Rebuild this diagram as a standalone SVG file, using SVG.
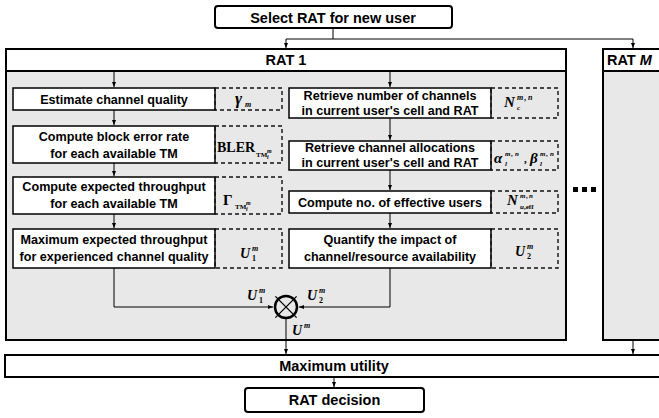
<svg xmlns="http://www.w3.org/2000/svg" width="659" height="418" viewBox="0 0 659 418">
<defs>
<style>
.t{font-family:"Liberation Sans",Arial,sans-serif;font-weight:bold;font-size:12.6px;text-anchor:middle;fill:#000}
.h{font-size:14.5px}
.m{font-family:"Liberation Serif","Times New Roman",serif;font-weight:bold;font-style:italic;fill:#000}
.r{font-style:normal}
.box{fill:#fff;stroke:#000;stroke-width:1.5}
.dash{fill:none;stroke:#111;stroke-width:1.4;stroke-dasharray:4 3}
.panel{fill:#e8e8e8;stroke:#000;stroke-width:2}
.hdr{fill:#fff;stroke:#000;stroke-width:2}
.c{fill:none;stroke:#000;stroke-width:1}
</style>
<marker id="ah" viewBox="0 0 5 4" refX="5" refY="2" markerWidth="5" markerHeight="4" orient="auto" markerUnits="userSpaceOnUse"><path d="M0,0 L5,2 L0,4 z" fill="#000"/></marker>
</defs>
<rect width="659" height="418" fill="#fff"/>

<g id="select">
<rect x="215" y="6" width="237" height="22" rx="3" class="hdr"/>
<text x="333" y="22.5" class="t h">Select RAT for new user</text>
</g>

<g id="rat1">
<rect x="6" y="49" width="560" height="291" class="panel"/>
<rect x="6" y="49" width="560" height="22" class="hdr"/>
<text x="286" y="65" class="t h">RAT 1</text>
</g>

<g id="ratM">
<rect x="603" y="49" width="100" height="291" class="panel"/>
<rect x="603" y="49" width="100" height="22" class="hdr"/>
<text x="607" y="65" class="t h" style="text-anchor:start">RAT <tspan font-style="italic">M</tspan></text>
</g>

<g id="ellipsis">
<rect x="573" y="187" width="5" height="5" fill="#000"/>
<rect x="582" y="187" width="5" height="5" fill="#000"/>
<rect x="591" y="187" width="5" height="5" fill="#000"/>
</g>

<g id="estimate">
<rect x="13" y="88" width="202" height="22" class="box"/>
<rect x="215" y="88" width="67" height="22" class="dash"/>
<text x="114" y="103.5" class="t">Estimate channel quality</text>
<text class="m"><tspan x="235" y="104" font-size="17">γ</tspan><tspan x="245" y="107" font-size="8">m</tspan></text>
</g>

<g id="bler">
<rect x="13" y="126" width="202" height="37" class="box"/>
<rect x="215" y="126" width="67" height="37" class="dash"/>
<text x="114" y="141" class="t">Compute block error rate</text>
<text x="114" y="158" class="t">for each available TM</text>
<text class="m"><tspan x="217" y="152" font-size="14" class="r">BLER</tspan><tspan x="256" y="157" font-size="7" class="r">TM</tspan><tspan x="267" y="159" font-size="6">i</tspan><tspan x="267" y="153" font-size="6">m</tspan></text>
</g>

<g id="throughput">
<rect x="13" y="177" width="202" height="37" class="box"/>
<rect x="215" y="177" width="67" height="37" class="dash"/>
<text x="114" y="191" class="t">Compute expected throughput</text>
<text x="114" y="208" class="t">for each available TM</text>
<text class="m"><tspan x="223" y="205" font-size="15" class="r">Γ</tspan><tspan x="235" y="209" font-size="7" class="r">TM</tspan><tspan x="246" y="211" font-size="6">i</tspan><tspan x="246" y="205" font-size="6">m</tspan></text>
</g>

<g id="maxthroughput">
<rect x="13" y="229" width="202" height="39" class="box"/>
<rect x="215" y="229" width="67" height="39" class="dash"/>
<text x="114" y="244" class="t">Maximum expected throughput</text>
<text x="114" y="260.5" class="t">for experienced channel quality</text>
<text class="m"><tspan x="240" y="258" font-size="14">U</tspan><tspan x="252" y="251" font-size="8">m</tspan><tspan x="252" y="261" font-size="8" class="r">1</tspan></text>
</g>

<g id="numchannels">
<rect x="289" y="88" width="202" height="30" class="box"/>
<rect x="491" y="88" width="67" height="30" class="dash"/>
<text x="390" y="100" class="t">Retrieve number of channels</text>
<text x="390" y="114.5" class="t">in current user's cell and RAT</text>
<text class="m"><tspan x="504" y="107" font-size="15">N</tspan><tspan x="517" y="100" font-size="8">m</tspan><tspan x="524" y="100" font-size="8" class="r">,</tspan><tspan x="528" y="100" font-size="8">n</tspan><tspan x="517" y="110" font-size="7">c</tspan></text>
</g>

<g id="allocations">
<rect x="289" y="141" width="202" height="29" class="box"/>
<rect x="491" y="141" width="67" height="29" class="dash"/>
<text x="390" y="152" class="t">Retrieve channel allocations</text>
<text x="390" y="166.5" class="t">in current user's cell and RAT</text>
<text class="m"><tspan x="494" y="163" font-size="15">α</tspan><tspan x="505" y="156" font-size="7">m</tspan><tspan x="511" y="156" font-size="7" class="r">,</tspan><tspan x="515" y="156" font-size="7">n</tspan><tspan x="505" y="166" font-size="7">l</tspan><tspan x="524" y="163" font-size="11" class="r">,</tspan><tspan x="530" y="163" font-size="15">β</tspan><tspan x="540" y="156" font-size="7">m</tspan><tspan x="546" y="156" font-size="7" class="r">,</tspan><tspan x="550" y="156" font-size="7">n</tspan><tspan x="540" y="166" font-size="7">l</tspan></text>
</g>

<g id="effusers">
<rect x="289" y="191" width="202" height="22" class="box"/>
<rect x="491" y="191" width="67" height="22" class="dash"/>
<text x="390" y="206.5" class="t">Compute no. of effective users</text>
<text class="m"><tspan x="507" y="205" font-size="15">N</tspan><tspan x="520" y="198" font-size="7">m</tspan><tspan x="526" y="198" font-size="7" class="r">,</tspan><tspan x="529" y="198" font-size="7">n</tspan><tspan x="520" y="209" font-size="7">u</tspan><tspan x="524" y="209" font-size="7" class="r">,eff</tspan></text>
</g>

<g id="impact">
<rect x="289" y="229" width="202" height="39" class="box"/>
<rect x="491" y="229" width="67" height="39" class="dash"/>
<text x="390" y="244" class="t">Quantify the impact of</text>
<text x="390" y="260.5" class="t">channel/resource availability</text>
<text class="m"><tspan x="515" y="256" font-size="14">U</tspan><tspan x="527" y="249" font-size="8">m</tspan><tspan x="527" y="259" font-size="8" class="r">2</tspan></text>
</g>

<g id="product">
<circle cx="286" cy="307" r="11" fill="none" stroke="#000" stroke-width="2.5"/>
<path d="M275.4,296.4 L296.6,317.6 M275.4,317.6 L296.6,296.4" stroke="#000" stroke-width="1.3"/>
<text class="m"><tspan x="247" y="300" font-size="14">U</tspan><tspan x="259" y="293" font-size="8">m</tspan><tspan x="259" y="303" font-size="8" class="r">1</tspan></text>
<text class="m"><tspan x="307" y="300" font-size="14">U</tspan><tspan x="319" y="293" font-size="8">m</tspan><tspan x="319" y="303" font-size="8" class="r">2</tspan></text>
<text class="m"><tspan x="292" y="335" font-size="14">U</tspan><tspan x="304" y="328" font-size="8">m</tspan></text>
</g>

<g id="maxutility">
<rect x="5" y="355" width="700" height="22" class="hdr"/>
<text x="334" y="371" class="t h">Maximum utility</text>
</g>

<g id="decision">
<rect x="245" y="388" width="179" height="24" rx="3" class="hdr"/>
<text x="334.5" y="405" class="t h">RAT decision</text>
</g>

<g id="connectors" class="c">
<path d="M333,28 V39 M286,39 H633"/>
<path d="M286,39 V48" marker-end="url(#ah)"/>
<path d="M633,39 V48" marker-end="url(#ah)"/>
<path d="M114,71 V87" marker-end="url(#ah)"/>
<path d="M114,110 V125" marker-end="url(#ah)"/>
<path d="M114,163 V176" marker-end="url(#ah)"/>
<path d="M114,214 V228" marker-end="url(#ah)"/>
<path d="M390,71 V87" marker-end="url(#ah)"/>
<path d="M390,118 V140" marker-end="url(#ah)"/>
<path d="M390,170 V190" marker-end="url(#ah)"/>
<path d="M390,213 V228" marker-end="url(#ah)"/>
<path d="M114,268 V307 H273" marker-end="url(#ah)"/>
<path d="M390,268 V307 H299" marker-end="url(#ah)"/>
<path d="M286,319 V354" marker-end="url(#ah)"/>
<path d="M633,340 V354" marker-end="url(#ah)"/>
<path d="M334,377 V387" marker-end="url(#ah)"/>
</g>
</svg>
